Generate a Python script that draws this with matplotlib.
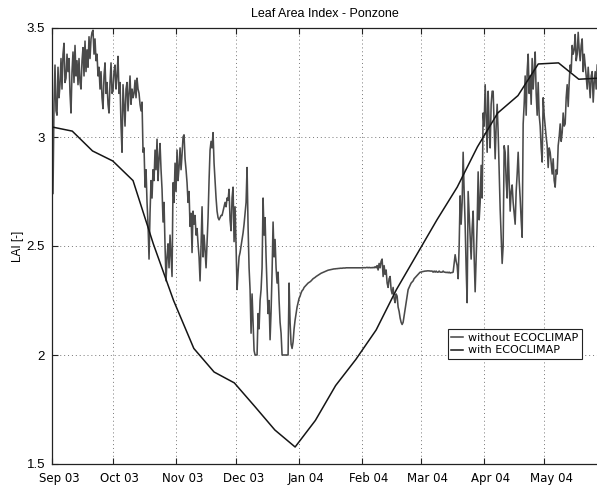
import numpy as np
import matplotlib
matplotlib.use('Agg')
import matplotlib.pyplot as plt
import matplotlib.dates as mdates
import matplotlib.transforms as mtransforms

# ---------------- data ----------------
start = np.datetime64('2003-09-01T00:00')

# LAI computed without ECOCLIMAP (noisy, sampled ~ every 11.85 h)
lai_without = [
    3.05, 2.74, 3.15, 3.33, 3.12, 3.10, 3.32, 3.18, 3.24, 3.36,
    3.22, 3.38, 3.43, 3.25, 3.27, 3.38, 3.30, 3.36, 3.20, 3.11,
    3.30, 3.39, 3.25, 3.42, 3.28, 3.35, 3.24, 3.36, 3.25, 3.22,
    3.35, 3.41, 3.28, 3.44, 3.30, 3.40, 3.32, 3.46, 3.36, 3.45,
    3.48, 3.49, 3.38, 3.45, 3.35, 3.38, 3.28, 3.32, 3.22, 3.30,
    3.18, 3.13, 3.28, 3.34, 3.20, 3.25, 3.15, 3.11, 3.25, 3.34,
    3.20, 3.21, 3.30, 3.33, 3.22, 3.28, 3.37, 3.20, 3.25, 3.05,
    2.93, 3.24, 3.15, 3.05, 3.22, 3.25, 3.12, 3.20, 3.28, 3.15,
    3.22, 3.18, 3.20, 3.26, 3.18, 3.27, 3.22, 3.20, 3.15, 3.12,
    3.16, 2.93, 2.95, 2.77, 2.85, 2.70, 2.60, 2.44, 2.65, 2.80,
    2.72, 2.85, 2.80, 2.94, 2.85, 2.99, 2.80, 2.90, 2.97, 2.85,
    2.76, 2.61, 2.70, 2.50, 2.34, 2.45, 2.51, 2.40, 2.55, 2.45,
    2.36, 2.79, 2.70, 2.88, 2.75, 2.94, 2.80, 2.86, 2.95, 2.85,
    2.92, 3.00, 3.01, 2.90, 2.85, 2.79, 2.70, 2.75, 2.59, 2.65,
    2.47, 2.66, 2.60, 2.64, 2.55, 2.58, 2.51, 2.45, 2.34, 2.50,
    2.68, 2.45, 2.55, 2.48, 2.40, 2.52, 2.63, 2.80, 2.94, 2.98,
    2.95, 3.02, 2.88, 2.80, 2.72, 2.66, 2.63, 2.62, 2.63, 2.64,
    2.64, 2.66, 2.68, 2.70, 2.68, 2.72, 2.71, 2.76, 2.62, 2.57,
    2.72, 2.77, 2.52, 2.68, 2.50, 2.30, 2.38, 2.45, 2.47, 2.50,
    2.53, 2.56, 2.60, 2.65, 2.70, 2.86, 2.59, 2.40, 2.30, 2.10,
    2.28, 2.15, 2.02, 2.00, 2.00, 2.00, 2.19, 2.12, 2.25, 2.30,
    2.40, 2.72, 2.55, 2.63, 2.45, 2.31, 2.19, 2.25, 2.07, 2.20,
    2.38, 2.61, 2.45, 2.53, 2.40, 2.33, 2.38, 2.25, 2.15, 2.10,
    2.00, 2.00, 2.00, 2.00, 2.00, 2.00, 2.00, 2.33, 2.15, 2.05,
    2.03, 2.06, 2.12, 2.16, 2.19, 2.22, 2.24, 2.26, 2.27, 2.285,
    2.295, 2.30, 2.31, 2.315, 2.32, 2.325, 2.33, 2.333, 2.336, 2.34,
    2.345, 2.35, 2.353, 2.356, 2.36, 2.363, 2.366, 2.369, 2.372, 2.375,
    2.377, 2.379, 2.381, 2.383, 2.385, 2.387, 2.389, 2.39, 2.391, 2.392,
    2.393, 2.394, 2.395, 2.395, 2.396, 2.396, 2.397, 2.397, 2.398, 2.398,
    2.398, 2.399, 2.399, 2.399, 2.40, 2.40, 2.40, 2.40, 2.40, 2.40,
    2.40, 2.40, 2.40, 2.40, 2.40, 2.40, 2.40, 2.40, 2.40, 2.40,
    2.40, 2.40, 2.401, 2.40, 2.401, 2.402, 2.40, 2.402, 2.40, 2.401,
    2.40, 2.402, 2.40, 2.405, 2.40, 2.41, 2.39, 2.42, 2.40, 2.43,
    2.44, 2.36, 2.41, 2.37, 2.39, 2.33, 2.31, 2.35, 2.36, 2.30,
    2.28, 2.31, 2.26, 2.24, 2.28, 2.27, 2.22, 2.20, 2.17, 2.15,
    2.14, 2.15, 2.18, 2.21, 2.24, 2.27, 2.30, 2.31, 2.32, 2.33,
    2.335, 2.34, 2.35, 2.355, 2.36, 2.365, 2.37, 2.375, 2.38, 2.38,
    2.382, 2.383, 2.384, 2.385, 2.385, 2.386, 2.386, 2.386, 2.385, 2.385,
    2.385, 2.38, 2.385, 2.38, 2.385, 2.38, 2.38, 2.385, 2.38, 2.38,
    2.38, 2.385, 2.38, 2.38, 2.378, 2.38, 2.377, 2.38, 2.376, 2.378,
    2.378, 2.38, 2.42, 2.46, 2.43, 2.41, 2.35, 2.50, 2.73, 2.60,
    2.70, 2.93, 2.75, 2.60, 2.40, 2.24, 2.75, 2.65, 2.56, 2.44,
    2.58, 2.66, 2.45, 2.29, 2.45, 2.60, 2.84, 2.62, 2.70, 2.87,
    2.72, 3.11, 3.05, 3.24, 3.10, 2.93, 3.21, 3.05, 2.95, 3.15,
    3.21, 3.21, 3.05, 2.90, 3.05, 3.15, 3.02, 2.85, 2.67, 2.55,
    2.42, 2.50, 2.96, 2.93, 2.80, 2.72, 2.96, 2.80, 2.66, 2.75,
    2.78, 2.70, 2.65, 2.60, 2.75, 2.83, 2.93, 2.80, 2.72, 2.62,
    2.54, 3.06, 3.15, 3.28, 3.10, 3.30, 3.38, 3.20, 3.28, 3.15,
    3.36, 3.22, 3.30, 3.39, 3.20, 3.10, 3.25, 3.10, 3.05, 2.95,
    2.885, 3.18, 3.10, 3.05, 3.00, 2.96, 2.86, 2.95, 2.93, 2.88,
    2.83, 2.90, 2.80, 2.77, 2.85, 2.83, 2.96, 3.00, 3.06, 2.98,
    3.02, 3.11, 3.05, 3.06, 3.18, 3.24, 3.14, 3.25, 3.33, 3.30,
    3.42, 3.38, 3.40, 3.47, 3.35, 3.38, 3.48, 3.40, 3.35, 3.42,
    3.45, 3.30, 3.38, 3.33, 3.28, 3.22, 3.32, 3.25, 3.18, 3.28,
    3.30, 3.16, 3.25, 3.30, 3.22, 3.33,
]
step_minutes = 711  # sampling interval of the series above

# LAI with ECOCLIMAP (dekadal values, every 10 days from 1 Sep 2003)
lai_with = [3.046, 3.027, 2.936, 2.89, 2.80, 2.51, 2.25, 2.03, 1.922, 1.872,
            1.765, 1.656, 1.578, 1.70, 1.86, 1.98, 2.115, 2.30, 2.46, 2.62,
            2.77, 2.955, 3.11, 3.19, 3.335, 3.34, 3.265, 3.27]

month_ticks = ['2003-09-01', '2003-10-01', '2003-11-01', '2003-12-01', '2004-01-01',
               '2004-02-01', '2004-03-01', '2004-04-01', '2004-05-01']
y_ticks = [1.5, 2, 2.5, 3, 3.5]
labels = ['without ECOCLIMAP', 'with ECOCLIMAP']
title = 'Leaf Area Index - Ponzone'
ylabel = 'LAI [-]'

# ---------------- plot ----------------
t_without = start + np.arange(len(lai_without)) * np.timedelta64(step_minutes, 'm')
t_with = start + np.arange(len(lai_with)) * np.timedelta64(10, 'D')

fig = plt.figure(figsize=(5.97, 4.91), dpi=100)
ax = fig.add_axes([52 / 597, 27 / 491, 545 / 597, 436 / 491])

ax.plot(t_without, lai_without, color='#4a4a4a', lw=1.15, label=labels[0])
ax.plot(t_with, lai_with, color='#151515', lw=1.1, label=labels[1])

ax.set_xlim(start, start + np.timedelta64(269, 'D'))
ax.set_ylim(1.5, 3.5)
ax.set_yticks(y_ticks)
ax.set_yticklabels(['%g' % v for v in y_ticks], fontsize=9.5, family='Liberation Sans')
xt = [np.datetime64(m) for m in month_ticks]
ax.set_xticks(xt)
ax.xaxis.set_major_formatter(mdates.DateFormatter('%b %y'))

ax.tick_params(direction='in', top=True, right=False, length=4, width=0.8,
               color='#222222')
ax.tick_params(axis='x', pad=6)
ax.tick_params(axis='y', pad=5)
shift = mtransforms.ScaledTranslation(7 / 100, 0, fig.dpi_scale_trans)
for lab in ax.get_xticklabels():
    lab.set_fontsize(8.5)
    lab.set_family('DejaVu Sans')
    lab.set_transform(lab.get_transform() + shift)

ax.grid(True, linestyle=(0, (1, 3)), color='#777777', linewidth=0.7)
for s in ['left', 'bottom', 'top']:
    ax.spines[s].set_color('#222222')
    ax.spines[s].set_linewidth(0.9)
ax.spines['right'].set_visible(False)

ax.set_title(title, fontsize=9, family='Liberation Sans', pad=8)
ax.set_ylabel(ylabel, fontsize=8.5, family='Liberation Sans', labelpad=2)

leg = ax.legend(loc='lower right', bbox_to_anchor=(0.973, 0.24), borderaxespad=0,
                fancybox=False, framealpha=1, edgecolor='#222222',
                handlelength=1.0, handletextpad=0.5, borderpad=0.35,
                labelspacing=0.2, prop={'family': 'DejaVu Sans', 'size': 8})
leg.get_frame().set_linewidth(0.8)

fig.savefig('out.png', dpi=100)
